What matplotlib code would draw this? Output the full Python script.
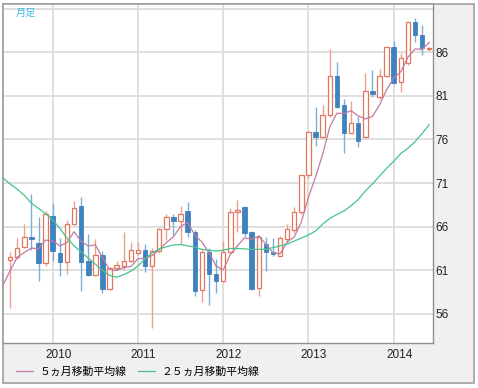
import numpy as np
import pandas as pd
import matplotlib
matplotlib.use('Agg')
import matplotlib.pyplot as plt
from matplotlib.patches import Rectangle

# monthly candles, Jul 2009 .. Jun 2014
months = pd.period_range('2009-07', '2014-06', freq='M')
opens = [62.17, 62.5, 63.7, 64.8, 64.1, 61.8,
         67.2, 63.0, 62.0, 66.3, 68.4, 62.1, 60.45, 62.75, 58.85, 61.3, 61.5, 62.1,
         63.0, 63.3, 61.5, 63.25, 65.7, 67.1, 66.7, 67.85, 65.35, 58.75, 63.05, 60.6,
         59.75, 63.05, 67.65, 68.3, 65.35, 59.0, 64.0, 63.1, 62.65, 64.6, 65.6, 67.7,
         71.9, 76.9, 76.3, 78.8, 83.3, 80.0, 76.8, 77.9, 76.3, 81.55, 80.9, 83.3,
         86.65, 82.6, 84.75, 89.45, 88.0, 86.35]
highs = [63.05, 64.7, 66.3, 69.7, 67.1, 67.8,
         68.7, 64.65, 66.8, 69.0, 69.4, 65.2, 64.6, 63.2, 61.4, 62.1, 65.35, 64.2,
         64.2, 64.0, 63.6, 65.9, 67.45, 67.4, 68.4, 68.8, 65.6, 63.3, 63.5, 62.3,
         64.4, 68.2, 69.1, 68.4, 65.5, 65.0, 64.8, 64.65, 64.9, 66.3, 68.3, 71.95,
         77.0, 79.7, 79.9, 86.4, 84.9, 80.7, 80.45, 78.7, 83.65, 83.95, 84.05, 86.65,
         87.35, 85.95, 89.5, 89.9, 89.15, 86.65]
lows = [56.7, 62.3, 63.5, 63.3, 59.8, 61.5,
        62.1, 60.4, 60.6, 66.2, 58.6, 60.4, 60.3, 58.4, 58.7, 61.0, 61.0, 61.9,
        62.7, 60.75, 54.4, 63.0, 64.5, 65.0, 64.0, 64.8, 58.1, 57.4, 57.0, 58.4,
        59.6, 63.0, 65.35, 64.97, 58.7, 58.0, 60.95, 62.65, 62.6, 64.3, 65.3, 67.5,
        71.6, 75.2, 76.2, 78.6, 79.6, 74.4, 76.7, 75.1, 76.2, 80.9, 80.7, 83.2,
        82.4, 81.4, 84.55, 87.15, 85.7, 86.2]
closes = [62.5, 63.6, 64.85, 64.55, 61.8, 67.5,
          63.2, 62.0, 66.3, 68.15, 62.0, 60.45, 62.75, 58.85, 61.3, 61.6, 62.1, 63.3,
          63.3, 61.5, 63.2, 65.7, 67.15, 66.7, 67.45, 65.35, 58.65, 63.05, 60.6, 59.8,
          63.05, 67.65, 67.9, 65.25, 58.9, 64.85, 63.15, 62.85, 64.65, 65.7, 67.7, 71.9,
          76.9, 76.3, 78.8, 83.3, 79.75, 76.8, 77.85, 75.85, 81.55, 81.2, 83.3, 86.65,
          82.45, 85.3, 89.5, 88.0, 86.45, 86.5]

# moving averages, Jun 2009 .. Jun 2014
ma_months = pd.period_range('2009-06', '2014-06', freq='M')
ma5 = [59.3, 60.95, 62.5, 63.05, 63.55, 63.46, 64.46,
       64.38, 63.81, 64.16, 65.43, 64.33, 63.78, 63.93, 62.44, 61.07, 60.99, 61.32, 61.43,
       62.32, 62.36, 62.68, 63.4, 64.17, 64.85, 66.04, 66.47, 65.06, 64.24, 63.02, 61.49,
       61.03, 62.83, 63.8, 64.73, 64.55, 64.91, 64.01, 63.0, 62.88, 64.24, 64.81, 66.56,
       69.37, 71.7, 74.32, 77.44, 79.01, 78.99, 79.3, 78.71, 78.36, 78.65, 79.95, 81.71,
       83.03, 83.78, 85.44, 86.38, 86.34, 87.15]
ma25 = [71.6, 70.9, 70.3, 69.6, 68.7, 68.1, 67.5,
        66.8, 65.8, 64.7, 63.8, 63.1, 62.4, 61.7, 61.0, 60.4, 60.2, 60.5, 60.9,
        61.5, 62.3, 63.0, 63.45, 63.7, 63.9, 63.95, 63.8, 63.65, 63.4, 63.3, 63.2,
        63.3, 63.5, 63.5, 63.45, 63.4, 63.4, 63.4, 63.6, 63.8, 64.0, 64.35, 64.7,
        65.05, 65.5, 66.3, 66.95, 67.4, 67.8, 68.4, 69.1, 70.1, 70.9, 71.8, 72.7,
        73.5, 74.4, 75.0, 75.75, 76.7, 77.7]

years = ['2010', '2011', '2012', '2013', '2014']
yticks = [56, 61, 66, 71, 76, 81, 86, 91]

W, H = 478, 388
fig = plt.figure(figsize=(W / 100, H / 100), dpi=100, facecolor='white')

# outer gray panel
fig.patches.append(Rectangle((3 / W, 1 - 383 / H), 471 / W, 379 / H, transform=fig.transFigure,
                             facecolor='#f0f0f0', edgecolor='#a0a0a0', lw=1.2, zorder=-1))

ax = fig.add_axes([3 / W, 1 - 343 / H, 430 / W, 339 / H])
ax.set_facecolor('white')

x = np.array([(p.year - 2010) * 12 + p.month - 1 for p in months])
xm = np.array([(p.year - 2010) * 12 + p.month - 1 for p in ma_months])
o = np.array(opens); c = np.array(closes)
up = c >= o

ax.vlines(x[up], np.array(lows)[up], np.array(highs)[up], color='#eba090', lw=1.0, zorder=2)
ax.vlines(x[~up], np.array(lows)[~up], np.array(highs)[~up], color='#78aedc', lw=1.0, zorder=2)
ax.bar(x[up], (c - o)[up], bottom=o[up], width=0.62, facecolor='white',
       edgecolor='#e2765c', lw=0.9, zorder=3)
ax.bar(x[~up], (o - c)[~up], bottom=c[~up], width=0.64, facecolor='#3f82c0',
       edgecolor='#3f82c0', lw=0.6, zorder=3)

l5, = ax.plot(xm, ma5, color='#c47aa4', lw=0.9, zorder=4)
l25, = ax.plot(xm, ma25, color='#45c488', lw=0.9, zorder=4)

ax.set_xlim(-7, 53.53)
ax.set_ylim(52.66, 91.54)
ax.set_xticks([0, 12, 24, 36, 48])
ax.set_xticklabels([])
ax.set_xticks([0.78, 12.78, 24.78, 36.78, 48.78], minor=True)
ax.set_xticklabels(years, minor=True, fontsize=8.5, family='Liberation Sans', color='#222222')
ax.set_yticks(yticks)
ax.set_yticklabels([str(v) for v in yticks[:-1]] + [''], fontsize=8.5,
                   family='Liberation Sans', color='#222222')
ax.yaxis.tick_right()
ax.tick_params(axis='both', which='both', length=0)
ax.tick_params(axis='y', pad=2)
ax.tick_params(axis='x', which='minor', pad=4)
ax.grid(True, which='major', color='#dcdcdc', lw=1.3, zorder=0)
ax.set_axisbelow(True)
for side in ['left', 'top']:
    ax.spines[side].set_color('#a0a0a0')
    ax.spines[side].set_linewidth(1.2)
for side in ['right', 'bottom']:
    ax.spines[side].set_color('#909090')
    ax.spines[side].set_linewidth(1.0)

ax.text(13 / 430, 1 - 9 / 339, '月足', transform=ax.transAxes, fontsize=7.3,
        family=['Noto Sans CJK JP', 'DejaVu Sans'], color='#3fb8ea', va='center', ha='left')

fig.legend([l5, l25], ['５ヵ月移動平均線', '２５ヵ月移動平均線'], loc='center left',
           bbox_to_anchor=(16 / W, 1 - 372 / H), ncol=2, frameon=False,
           prop={'family': ['Noto Sans CJK JP', 'DejaVu Sans'], 'size': 7.8},
           handlelength=1.6, handletextpad=0.6, columnspacing=1.0,
           borderpad=0, borderaxespad=0)

fig.savefig('out.png', dpi=100, facecolor='white')
